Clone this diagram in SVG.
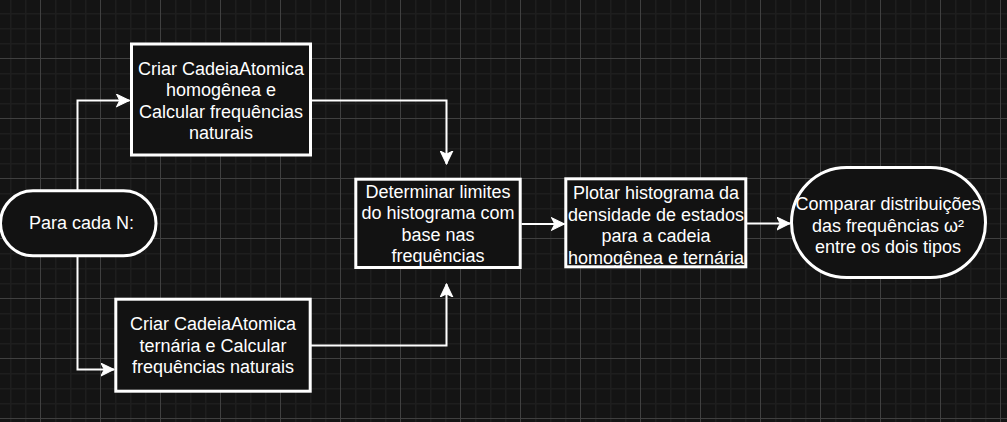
<svg xmlns="http://www.w3.org/2000/svg" width="1007" height="422" viewBox="0 0 1007 422">
  <style>
    .node { fill: #121212; stroke: #ffffff; stroke-width: 3; }
    .label { font-family: "Liberation Sans", Arial, Helvetica, sans-serif; font-size: 18px; fill: #ffffff; text-anchor: middle; }
    .edge { fill: none; stroke: #ffffff; stroke-width: 2; marker-end: url(#arrow); }
  </style>
  <defs>
    <pattern id="grid" patternUnits="userSpaceOnUse" x="40" y="58" width="60" height="60">
      <rect x="0" y="0" width="60" height="60" fill="#141414"/>
      <rect x="15" y="0" width="1.5" height="60" fill="#1e1e1e"/>
      <rect x="30" y="0" width="1.5" height="60" fill="#1e1e1e"/>
      <rect x="45" y="0" width="1.5" height="60" fill="#1e1e1e"/>
      <rect x="0" y="15" width="60" height="1.5" fill="#1e1e1e"/>
      <rect x="0" y="30" width="60" height="1.5" fill="#1e1e1e"/>
      <rect x="0" y="45" width="60" height="1.5" fill="#1e1e1e"/>
      <rect x="0" y="0" width="1" height="60" fill="#404040"/>
      <rect x="0" y="0" width="60" height="1" fill="#404040"/>
    </pattern>
    <marker id="arrow" markerUnits="userSpaceOnUse" markerWidth="14" markerHeight="14" viewBox="0 0 13 12" refX="12.5" refY="6" orient="auto">
      <path d="M12.5,6 L0.5,0.2 L3.5,6 L0.5,11.8 Z" fill="#ffffff" stroke="#ffffff" stroke-width="1"/>
    </marker>
  </defs>
  <rect x="0" y="0" width="1007" height="422" fill="url(#grid)"/>

  <g id="connectors">
    <path class="edge" d="M77.5,190 V100.5 H129.5"/>
    <path class="edge" d="M77.5,257 V369.5 H114"/>
    <path class="edge" d="M311,100.5 H446.5 V164"/>
    <path class="edge" d="M311,345.5 H446.5 V284"/>
    <path class="edge" d="M521.5,224 H564.5"/>
    <path class="edge" d="M747,223.5 H790"/>
  </g>

  <g id="node-start">
    <rect class="node" x="0.5" y="190.8" width="155.5" height="65" rx="32.5" ry="32.5"/>
    <text class="label" x="81.5" y="228.5">Para cada N:</text>
  </g>

  <g id="node-homogenea">
    <rect class="node" x="131.5" y="44" width="179" height="111"/>
    <text class="label" x="221" y="74.5">Criar CadeiaAtomica</text>
    <text class="label" x="221" y="96.1">homogênea e</text>
    <text class="label" x="221" y="117.7">Calcular frequências</text>
    <text class="label" x="221" y="139.3">naturais</text>
  </g>

  <g id="node-ternaria">
    <rect class="node" x="115.8" y="299.2" width="194.4" height="92"/>
    <text class="label" x="213" y="330">Criar CadeiaAtomica</text>
    <text class="label" x="213" y="351.6">ternária e Calcular</text>
    <text class="label" x="213" y="373.2">frequências naturais</text>
  </g>

  <g id="node-limites">
    <rect class="node" x="355.8" y="179.2" width="164.4" height="88.3"/>
    <text class="label" x="438" y="197.5">Determinar limites</text>
    <text class="label" x="438" y="219.1">do histograma com</text>
    <text class="label" x="438" y="240.7">base nas</text>
    <text class="label" x="438" y="262.3">frequências</text>
  </g>

  <g id="node-plotar">
    <rect class="node" x="565.8" y="178.8" width="180" height="88"/>
    <text class="label" x="656" y="199">Plotar histograma da</text>
    <text class="label" x="656" y="220.6">densidade de estados</text>
    <text class="label" x="656" y="242.2">para a cadeia</text>
    <text class="label" x="656" y="263.8">homogênea e ternária</text>
  </g>

  <g id="node-comparar">
    <rect class="node" x="791.5" y="167.5" width="194" height="110" rx="55" ry="55"/>
    <text class="label" x="888" y="210">Comparar distribuições</text>
    <text class="label" x="888" y="231.6">das frequências ω²</text>
    <text class="label" x="888" y="253.2">entre os dois tipos</text>
  </g>
</svg>
